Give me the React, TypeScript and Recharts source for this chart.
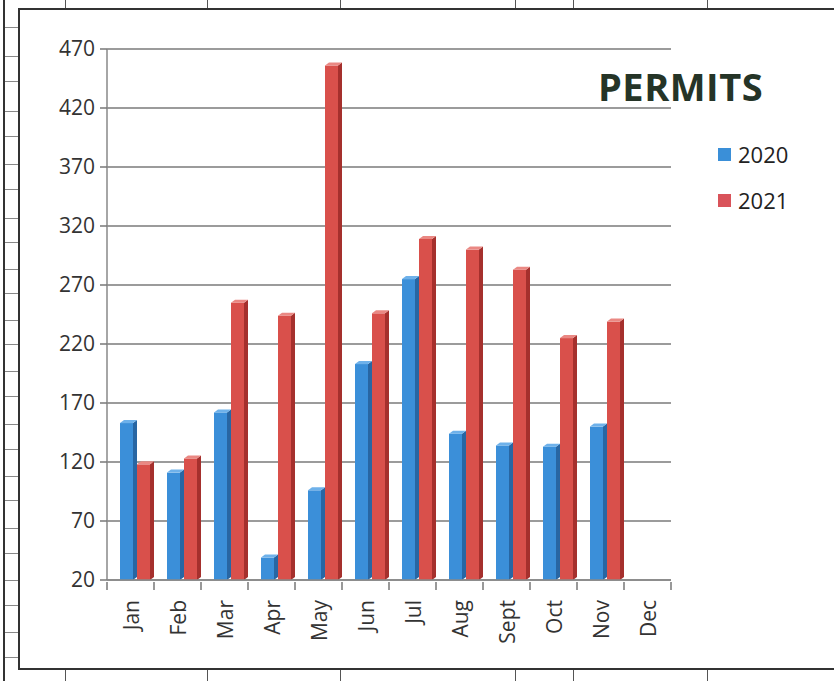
import React from "react";
import { BarChart, Bar, XAxis, YAxis, CartesianGrid } from "recharts";

const months = ["Jan", "Feb", "Mar", "Apr", "May", "Jun", "Jul", "Aug", "Sept", "Oct", "Nov", "Dec"];
const permits2020: (number | null)[] = [153, 111, 162, 39, 96, 203, 275, 144, 134, 133, 150, null];
const permits2021: (number | null)[] = [118, 123, 255, 244, 456, 246, 309, 300, 283, 225, 239, null];
const yTicks = [20, 70, 120, 170, 220, 270, 320, 370, 420, 470];
const seriesNames = ["2020", "2021"];
const chartTitle = "PERMITS";

const data = months.map((m, i) => ({ month: m, y2020: permits2020[i], y2021: permits2021[i] }));

const FONT = "'Open Sans', 'Noto Sans', sans-serif";

const makeBar3D = (front: string, side: string, top: string) => (props: any) => {
  const { x, y, width, height } = props;
  if (height == null || height <= 0 || isNaN(y)) return null;
  const d = 4; // depth of the fake 3D
  const up = 3;
  const sx = x + 6; // perspective shift
  const fw = width - d;
  return (
    <g>
      <rect x={sx} y={y} width={fw} height={height} fill={front} />
      <path d={`M${sx + fw},${y} L${sx + width},${y - up} L${sx + width},${y + height - up} L${sx + fw},${y + height} Z`} fill={side} />
      <path d={`M${sx},${y} L${sx + d},${y - up} L${sx + width},${y - up} L${sx + fw},${y} Z`} fill={top} />
    </g>
  );
};

const BlueBar = makeBar3D("#3b8fd9", "#2866a3", "#6eb1ea");
const RedBar = makeBar3D("#d9504b", "#a5302d", "#ea8883");

const XTick = (props: any) => {
  const { x, y, payload } = props;
  const half = 23.5;
  return (
    <g>
      <line x1={x - half} y1={y - 6} x2={x - half} y2={y + 2} stroke="#777" strokeWidth={1.5} />
      {payload.index === months.length - 1 && (
        <line x1={x + half} y1={y - 6} x2={x + half} y2={y + 2} stroke="#777" strokeWidth={1.5} />
      )}
      <text
        x={x}
        y={y + 12}
        transform={`rotate(-90, ${x}, ${y + 12})`}
        textAnchor="end"
        dominantBaseline="central"
        fontFamily={FONT}
        fontSize={21}
        fill="#333"
      >
        {payload.value}
      </text>
    </g>
  );
};

const legendColors = ["#3a8fd8", "#d9535a"];

const leftTicksY = [27, 56, 81, 111, 136, 164, 189, 218, 242, 269, 293, 320, 344, 371, 396, 424, 449, 476, 500, 528, 553, 580, 605, 632, 657];
const topVerticals = [65, 207, 340, 515, 573, 707];

export default function App() {
  return (
    <div style={{ position: "absolute", left: 0, top: 0, width: 834, height: 681, background: "#fff", overflow: "hidden" }}>
      {/* scanned page frame */}
      <div style={{ position: "absolute", left: 3, top: 0, width: 2, height: 681, background: "#333" }} />
      {leftTicksY.map((t) => (
        <div key={t} style={{ position: "absolute", left: 5, top: t, width: 13, height: 1, background: "#888" }} />
      ))}
      {topVerticals.map((vx) => (
        <div key={"t" + vx} style={{ position: "absolute", left: vx, top: 0, width: 1, height: 8, background: "#555" }} />
      ))}
      {topVerticals.map((vx) => (
        <div key={"b" + vx} style={{ position: "absolute", left: vx, top: 668, width: 1, height: 13, background: "#555" }} />
      ))}
      <div style={{ position: "absolute", left: 18, top: 8, width: 830, height: 658, border: "2px solid #333", borderRight: "none", boxSizing: "content-box" }} />

      <div style={{ position: "absolute", left: 0, top: 0 }}>
        <BarChart
          width={834}
          height={681}
          data={data}
          margin={{ top: 49, right: 163, bottom: 0, left: 20 }}
          barGap={0}
          barSize={17}
        >
          <CartesianGrid vertical={false} stroke="#7a7a7a" strokeWidth={1.5} />
          <XAxis
            dataKey="month"
            tick={<XTick />}
            tickLine={false}
            axisLine={{ stroke: "#888", strokeWidth: 1.5 }}
            interval={0}
            height={101}
          />
          <YAxis
            domain={[20, 470]}
            ticks={yTicks}
            interval={0}
            width={87}
            tickSize={7}
            tickMargin={5}
            tick={{ fontFamily: FONT, fontSize: 21, fill: "#333" }}
            tickLine={{ stroke: "#777", strokeWidth: 1.5 }}
            axisLine={{ stroke: "#888", strokeWidth: 1.5 }}
            allowDataOverflow
          />
          <Bar dataKey="y2020" name={seriesNames[0]} fill="#3b8fd9" shape={<BlueBar />} isAnimationActive={false} />
          <Bar dataKey="y2021" name={seriesNames[1]} fill="#d9504b" shape={<RedBar />} isAnimationActive={false} />
        </BarChart>
      </div>

      <div style={{ position: "absolute", left: 718, top: 131, fontFamily: FONT }}>
        {seriesNames.map((n, i) => (
          <div key={n} style={{ display: "flex", alignItems: "center", height: 46 }}>
            <span style={{ width: 13, height: 13, background: legendColors[i], display: "inline-block", marginRight: 7 }} />
            <span style={{ fontSize: 22, color: "#222" }}>{n}</span>
          </div>
        ))}
      </div>

      <div
        style={{
          position: "absolute",
          left: 598,
          top: 58,
          fontFamily: FONT,
          fontWeight: 700,
          fontSize: 38,
          color: "#253427",
          letterSpacing: 0.5,
          lineHeight: "56px",
        }}
      >
        {chartTitle}
      </div>
    </div>
  );
}
